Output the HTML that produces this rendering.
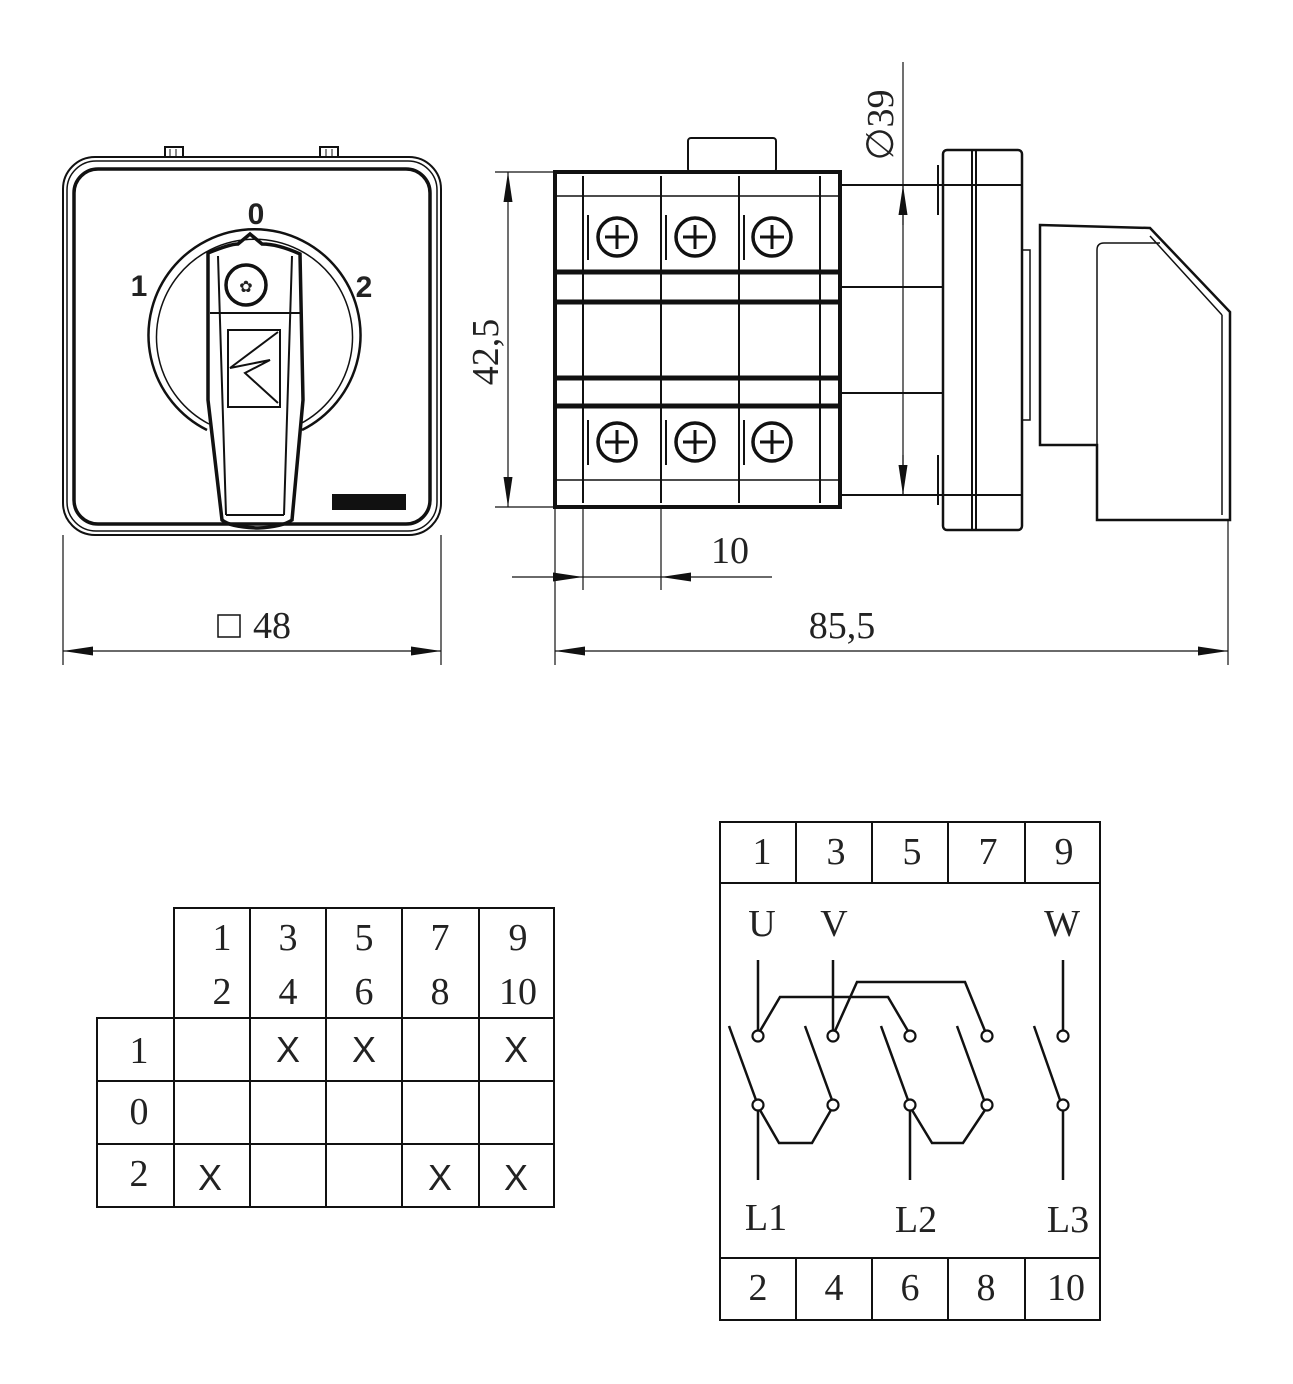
<!DOCTYPE html>
<html><head><meta charset="utf-8"><style>
html,body{margin:0;padding:0;background:#fff}
svg{display:block}
text{font-family:"Liberation Serif",serif;fill:#222}
</style></head><body>
<svg width="1293" height="1384" viewBox="0 0 1293 1384" xmlns="http://www.w3.org/2000/svg">
<defs>
<marker id="a" viewBox="0 0 30 10" refX="30" refY="5" markerWidth="30" markerHeight="10" markerUnits="userSpaceOnUse" orient="auto-start-reverse"><path d="M0,0.5 L30,5 L0,9.5 z" fill="#111"/></marker>
</defs>
<g fill="none" stroke="#111" stroke-width="2">
<!-- FRONT VIEW -->
<rect x="63" y="157" width="378" height="378" rx="32"/>
<rect x="67" y="161" width="370" height="370" rx="29" stroke-width="1.5"/>
<rect x="74" y="169" width="356" height="355" rx="24" stroke-width="3.5"/>
<path d="M165,157 v-10 h18 v10 M320,157 v-10 h18 v10" stroke-width="2"/>
<path d="M170,157 v-8 M176,157 v-8 M326,157 v-8 M332,157 v-8" stroke-width="1"/>
<path d="M207,430 A106,106 0 1,1 302,430" stroke-width="2.5"/>
<path d="M209,424 A98,98 0 1,1 300,424" stroke-width="1.5"/>
<path d="M208,253 Q230,244 238,244 L250,234 L262,244 Q278,244 300,254 L303,400 L292,520 Q282,527 258,528 Q230,527 222,520 L208,400 Z" stroke-width="3.5"/>
<path d="M218,256 L226,515 M292,256 L284,515 M226,515 L284,515" stroke-width="2"/>
<line x1="210" y1="313" x2="300" y2="313" stroke-width="2"/>
<circle cx="246" cy="285" r="20" stroke-width="3.5"/>
<text x="246" y="292" font-size="16" text-anchor="middle" stroke="none" fill="#111">✿</text>
<rect x="228" y="330" width="52" height="77" stroke-width="2"/>
<path d="M278,332 L230,368 L270,360 L245,373 L278,403" stroke-width="2"/>
<rect x="332" y="494" width="74" height="16" fill="#111" stroke="none"/>
<line x1="63" y1="535" x2="63" y2="665" stroke-width="1.2"/>
<line x1="441" y1="535" x2="441" y2="665" stroke-width="1.2"/>
<line x1="63" y1="651" x2="441" y2="651" stroke-width="1.2" marker-start="url(#a)" marker-end="url(#a)"/>
<rect x="218" y="615" width="22" height="22" stroke-width="1.5"/>

<!-- SIDE VIEW -->
<rect x="688" y="138" width="88" height="34" rx="3" stroke-width="2"/>
<rect x="555" y="172" width="285" height="335" stroke-width="4"/>
<line x1="583" y1="176" x2="583" y2="503"/>
<line x1="661" y1="176" x2="661" y2="503"/>
<line x1="739" y1="176" x2="739" y2="503"/>
<line x1="820" y1="176" x2="820" y2="503"/>
<line x1="555" y1="196" x2="840" y2="196" stroke-width="1.5"/>
<line x1="555" y1="480" x2="840" y2="480" stroke-width="1.5"/>
<g stroke-width="5">
<line x1="555" y1="272" x2="840" y2="272"/>
<line x1="555" y1="302" x2="840" y2="302"/>
<line x1="555" y1="378" x2="840" y2="378"/>
<line x1="555" y1="406" x2="840" y2="406"/>
</g>
<g stroke-width="3.5">
<circle cx="617" cy="237" r="19"/><circle cx="695" cy="237" r="19"/><circle cx="772" cy="237" r="19"/>
<circle cx="617" cy="442" r="19"/><circle cx="695" cy="442" r="19"/><circle cx="772" cy="442" r="19"/>
</g>
<g stroke-width="3">
<path d="M605,237 h24 M617,225 v24 M683,237 h24 M695,225 v24 M760,237 h24 M772,225 v24"/>
<path d="M605,442 h24 M617,430 v24 M683,442 h24 M695,430 v24 M760,442 h24 M772,430 v24"/>
</g>
<path d="M588,215 v45 M666,215 v45 M744,215 v45 M588,420 v45 M666,420 v45 M744,420 v45" stroke-width="2"/>
<line x1="840" y1="185" x2="943" y2="185"/>
<line x1="840" y1="287" x2="943" y2="287"/>
<line x1="840" y1="393" x2="943" y2="393"/>
<line x1="840" y1="495" x2="943" y2="495"/>
<rect x="943" y="150" width="79" height="380" rx="4" stroke-width="2.5"/>
<line x1="972" y1="150" x2="972" y2="530"/>
<line x1="976" y1="150" x2="976" y2="530"/>
<line x1="943" y1="185" x2="1022" y2="185"/>
<line x1="943" y1="495" x2="1022" y2="495"/>
<path d="M938,165 v50 M938,455 v50" stroke-width="2"/>
<rect x="1022" y="250" width="8" height="170" stroke-width="1.5"/>
<path d="M1040,225 L1150,228 L1230,312 L1230,520 L1097,520 L1097,445 L1040,445 Z" stroke-width="2.5"/>
<path d="M1150,236 L1222,315 M1222,315 L1222,515 M1097,445 L1097,250 Q1097,243 1104,243 L1160,243" stroke-width="1.5"/>
<line x1="495" y1="172" x2="555" y2="172" stroke-width="1.2"/>
<line x1="495" y1="507" x2="555" y2="507" stroke-width="1.2"/>
<line x1="508" y1="172" x2="508" y2="507" stroke-width="1.2" marker-start="url(#a)" marker-end="url(#a)"/>
<line x1="903" y1="62" x2="903" y2="495" stroke-width="1.2"/>
<line x1="903" y1="225" x2="903" y2="185" stroke-width="1.2" marker-end="url(#a)"/>
<line x1="903" y1="455" x2="903" y2="495" stroke-width="1.2" marker-end="url(#a)"/>
<line x1="555" y1="507" x2="555" y2="665" stroke-width="1.2"/>
<line x1="583" y1="507" x2="583" y2="590" stroke-width="1.2"/>
<line x1="661" y1="507" x2="661" y2="590" stroke-width="1.2"/>
<line x1="1228" y1="520" x2="1228" y2="665" stroke-width="1.2"/>
<line x1="512" y1="577" x2="583" y2="577" stroke-width="1.2" marker-end="url(#a)"/>
<line x1="583" y1="577" x2="661" y2="577" stroke-width="1.2"/>
<line x1="772" y1="577" x2="661" y2="577" stroke-width="1.2" marker-end="url(#a)"/>
<line x1="555" y1="651" x2="1228" y2="651" stroke-width="1.2" marker-start="url(#a)" marker-end="url(#a)"/>

<!-- LEFT TABLE -->
<g stroke-width="2">
<rect x="174" y="908" width="380" height="299"/>
<rect x="97" y="1018" width="457" height="189"/>
<line x1="97" y1="1081" x2="554" y2="1081"/>
<line x1="97" y1="1144" x2="554" y2="1144"/>
<line x1="250" y1="908" x2="250" y2="1207"/>
<line x1="326" y1="908" x2="326" y2="1207"/>
<line x1="402" y1="908" x2="402" y2="1207"/>
<line x1="479" y1="908" x2="479" y2="1207"/>
</g>
<!-- RIGHT BOX -->
<g stroke-width="2">
<rect x="720" y="822" width="380" height="498"/>
<line x1="720" y1="883" x2="1100" y2="883"/>
<line x1="720" y1="1258" x2="1100" y2="1258"/>
<path d="M796,822 v61 M872,822 v61 M948,822 v61 M1025,822 v61"/>
<path d="M796,1258 v62 M872,1258 v62 M948,1258 v62 M1025,1258 v62"/>
</g>
<g stroke-width="2.5">
<path d="M758,960 V1030 M833,960 V1030 M1063,960 V1030"/>
<path d="M760,1031 L780,997 L888,997 L908,1031"/>
<path d="M835,1031 L857,982 L965,982 L985,1031"/>
<path d="M729,1026 L756,1100 M805,1026 L832,1100 M881,1026 L908,1100 M957,1026 L984,1100 M1034,1026 L1060,1100"/>
<path d="M760,1110 L779,1143 L812,1143 L831,1110 M912,1110 L932,1143 L963,1143 L985,1110"/>
<path d="M758,1110 V1180 M910,1110 V1180 M1063,1110 V1180"/>
</g>
<g stroke-width="2.2" fill="#fff">
<circle cx="758" cy="1036" r="5.5"/><circle cx="833" cy="1036" r="5.5"/><circle cx="910" cy="1036" r="5.5"/><circle cx="987" cy="1036" r="5.5"/><circle cx="1063" cy="1036" r="5.5"/>
<circle cx="758" cy="1105" r="5.5"/><circle cx="833" cy="1105" r="5.5"/><circle cx="910" cy="1105" r="5.5"/><circle cx="987" cy="1105" r="5.5"/><circle cx="1063" cy="1105" r="5.5"/>
</g>
</g>

<g font-weight="bold" font-size="30" fill="#111">
<text x="256" y="224" text-anchor="middle" style="font-family:'Liberation Sans',sans-serif">0</text>
<text x="139" y="296" text-anchor="middle" style="font-family:'Liberation Sans',sans-serif">1</text>
<text x="364" y="297" text-anchor="middle" style="font-family:'Liberation Sans',sans-serif">2</text>
</g>
<g font-size="38">
<text x="272" y="638" text-anchor="middle">48</text>
<text x="842" y="638" text-anchor="middle">85,5</text>
<text x="730" y="563" text-anchor="middle">10</text>
<text transform="translate(498,352) rotate(-90)" text-anchor="middle">42,5</text>
<text transform="translate(893,125) rotate(-90)" text-anchor="middle">∅39</text>
</g>
<g font-size="38" text-anchor="middle">
<text x="222" y="950">1</text><text x="222" y="1004">2</text>
<text x="288" y="950">3</text><text x="288" y="1004">4</text>
<text x="364" y="950">5</text><text x="364" y="1004">6</text>
<text x="440" y="950">7</text><text x="440" y="1004">8</text>
<text x="518" y="950">9</text><text x="518" y="1004">10</text>
<text x="139" y="1063">1</text><text x="139" y="1124">0</text><text x="139" y="1186">2</text>
</g>
<g font-size="36" text-anchor="middle">
<text x="288" y="1062" style="font-family:'Liberation Sans',sans-serif">X</text>
<text x="364" y="1062" style="font-family:'Liberation Sans',sans-serif">X</text>
<text x="516" y="1062" style="font-family:'Liberation Sans',sans-serif">X</text>
<text x="210" y="1190" style="font-family:'Liberation Sans',sans-serif">X</text>
<text x="440" y="1190" style="font-family:'Liberation Sans',sans-serif">X</text>
<text x="516" y="1190" style="font-family:'Liberation Sans',sans-serif">X</text>
</g>
<g font-size="38" text-anchor="middle">
<text x="762" y="864">1</text><text x="836" y="864">3</text><text x="912" y="864">5</text><text x="988" y="864">7</text><text x="1064" y="864">9</text>
<text x="758" y="1300">2</text><text x="834" y="1300">4</text><text x="910" y="1300">6</text><text x="986" y="1300">8</text><text x="1066" y="1300">10</text>
<text x="762" y="936">U</text><text x="834" y="936">V</text><text x="1062" y="936">W</text>
<text x="766" y="1230">L1</text><text x="916" y="1232">L2</text><text x="1068" y="1232">L3</text>
</g>
</svg>
</body></html>
